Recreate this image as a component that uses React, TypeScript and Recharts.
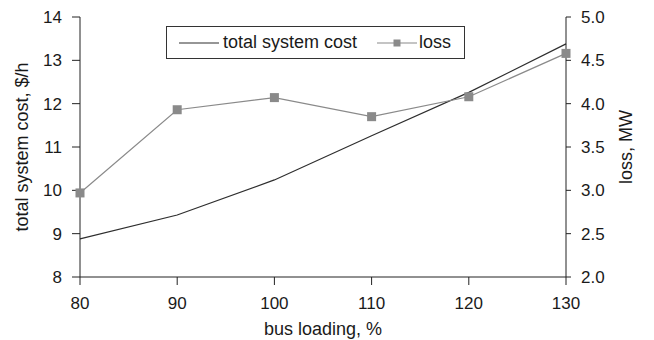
import { CartesianGrid, ComposedChart, Legend, Line, XAxis, YAxis } from "recharts"

// bus loading (%) and the two measured series
const busLoading = [80, 90, 100, 110, 120, 130]
const totalCost = [8.88, 9.43, 10.24, 11.26, 12.26, 13.38]
const loss = [2.97, 3.93, 4.07, 3.85, 4.08, 4.58]

const xTicks = [80, 90, 100, 110, 120, 130]
const costTicks = [8, 9, 10, 11, 12, 13, 14]
const lossTicks = [2.0, 2.5, 3.0, 3.5, 4.0, 4.5, 5.0]

const data = busLoading.map((load, i) => ({ load, cost: totalCost[i], loss: loss[i] }))

const FONT = "'Liberation Sans', Arial, Helvetica, sans-serif"
const AXIS = "#222"
const TEXT = "#1a1a1a"
const COST_COLOR = "#2e2e2e"
const LOSS_COLOR = "#8a8a8a"

const SquareDot = (props: any) => {
  const { cx, cy } = props
  if (cx == null || cy == null) return null
  return <rect x={cx - 4.5} y={cy - 4.5} width={9} height={9} fill={LOSS_COLOR} />
}

const LegendBox = () => (
  <div
    style={{
      width: 297,
      height: 31,
      border: "1px solid #333",
      background: "#fff",
      display: "flex",
      alignItems: "center",
      fontFamily: FONT,
      fontSize: 18,
      color: TEXT,
    }}
  >
    <svg width={44} height={10} style={{ marginLeft: 12 }}>
      <line x1={0} y1={5} x2={40} y2={5} stroke={COST_COLOR} strokeWidth={1.2} />
    </svg>
    <span>total system cost</span>
    <svg width={44} height={10} style={{ marginLeft: 18 }}>
      <line x1={2} y1={5} x2={42} y2={5} stroke={LOSS_COLOR} strokeWidth={1.2} />
      <rect x={18.5} y={1.5} width={7} height={7} fill={LOSS_COLOR} />
    </svg>
    <span>loss</span>
  </div>
)

export default function App() {
  return (
    <div style={{ position: "absolute", left: 0, top: 0, background: "#fff" }}>
      <ComposedChart
        width={654}
        height={340}
        data={data}
        margin={{ top: 17, right: 0, bottom: 0, left: 0 }}
        style={{ fontFamily: FONT }}
      >
        <CartesianGrid stroke="none" />
        <XAxis
          dataKey="load"
          type="number"
          domain={[80, 130]}
          ticks={xTicks}
          height={63}
          stroke={AXIS}
          tickSize={8}
          tickMargin={12}
          tick={{ fill: TEXT, fontSize: 17 }}
          label={{
            content: ({ viewBox }: any) => (
              <text
                x={viewBox.x + viewBox.width / 2}
                y={viewBox.y + 58}
                textAnchor="middle"
                fill={TEXT}
                fontSize={18}
                fontFamily={FONT}
              >
                bus loading, %
              </text>
            ),
          }}
        />
        <YAxis
          yAxisId="cost"
          domain={[8, 14]}
          ticks={costTicks}
          width={80}
          stroke={AXIS}
          tickSize={8}
          tickMargin={10}
          tick={{ fill: TEXT, fontSize: 17 }}
          label={{
            content: ({ viewBox }: any) => {
              const x = viewBox.x + 22
              const y = viewBox.y + viewBox.height / 2
              return (
                <text
                  x={x}
                  y={y}
                  transform={`rotate(-90, ${x}, ${y})`}
                  textAnchor="middle"
                  dominantBaseline="central"
                  fill={TEXT}
                  fontSize={18}
                  fontFamily={FONT}
                >
                  total system cost, $/h
                </text>
              )
            },
          }}
        />
        <YAxis
          yAxisId="loss"
          orientation="right"
          domain={[2, 5]}
          ticks={lossTicks}
          width={88}
          stroke={AXIS}
          tickSize={5}
          tickMargin={10}
          tickFormatter={(v: number) => v.toFixed(1)}
          tick={{ fill: TEXT, fontSize: 17 }}
          label={{
            content: ({ viewBox }: any) => {
              const x = viewBox.x + 60
              const y = viewBox.y + viewBox.height / 2
              return (
                <text
                  x={x}
                  y={y}
                  transform={`rotate(-90, ${x}, ${y})`}
                  textAnchor="middle"
                  dominantBaseline="central"
                  fill={TEXT}
                  fontSize={18}
                  fontFamily={FONT}
                >
                  loss, MW
                </text>
              )
            },
          }}
        />
        <Legend
          layout="horizontal"
          verticalAlign="middle"
          align="center"
          wrapperStyle={{ top: 26, left: 166, width: "auto" }}
          content={() => <LegendBox />}
        />
        <Line
          yAxisId="cost"
          dataKey="cost"
          stroke={COST_COLOR}
          strokeWidth={1.2}
          dot={false}
          activeDot={false}
          isAnimationActive={false}
        />
        <Line
          yAxisId="loss"
          dataKey="loss"
          stroke={LOSS_COLOR}
          strokeWidth={1.2}
          dot={<SquareDot />}
          activeDot={false}
          isAnimationActive={false}
        />
      </ComposedChart>
    </div>
  )
}
